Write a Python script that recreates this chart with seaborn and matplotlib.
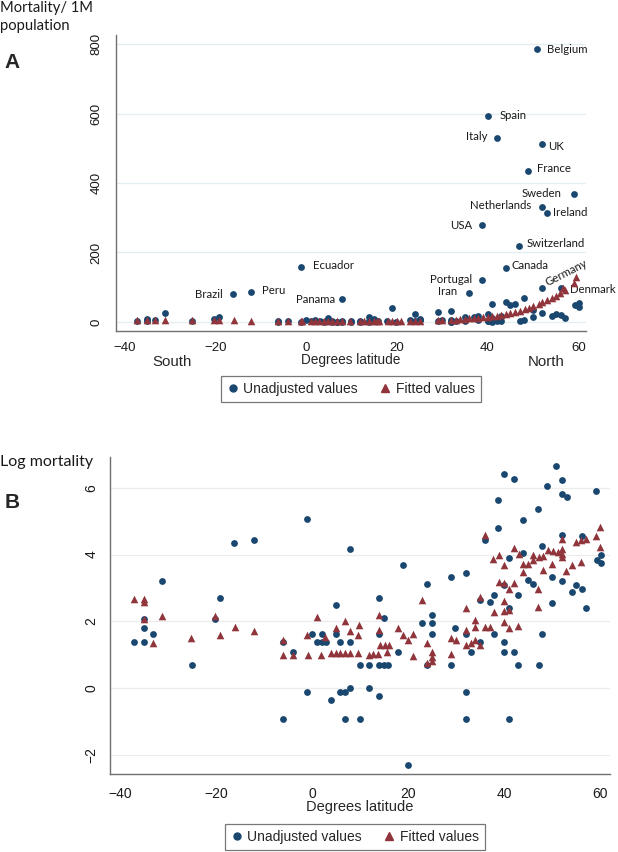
import numpy as np
import pandas as pd
import matplotlib
matplotlib.use("Agg")
import matplotlib.pyplot as plt
import seaborn as sns
from matplotlib.lines import Line2D

# ---------------- data ----------------
# observed countries: latitude (degrees), mortality per 1M (panel A), log mortality (panel B)
lat_obs = [-37.2, -35.1, -35.1, -35.1, -33.2, -31.2, -25.1, -20.2, -19.2, -16.2,
           -12.1, -6.1, -6.1, -4.0, -1.1, -1.1, -0.1, 1.0, 2.0, 3.0,
           2.0, 4.9, 4.9, 3.9, 5.8, 6.9, 7.9, 5.8, 7.9, 7.9,
           6.9, 10.0, 10.0, 11.9, 11.9, 13.9, 13.9, 14.9, 15.9, 14.0,
           13.9, 14.9, 17.9, 19.0, 19.9, 23.0, 24.0, 24.0, 25.1, 25.1,
           25.1, 29.0, 29.0, 29.9, 32.0, 32.0, 32.0, 32.0, 33.1, 35.0,
           35.0, 36.0, 37.1, 37.9, 37.9, 38.8, 38.8, 40.0, 40.0, 40.0,
           40.0, 41.0, 41.0, 41.0, 42.0, 42.0, 43.0, 43.0, 44.0, 44.0,
           45.0, 46.1, 47.0, 47.2, 48.0, 48.0, 49.0, 50.1, 50.1, 50.9,
           52.0, 52.0, 52.1, 53.1, 52.0, 54.1, 55.1, 56.2, 56.2, 57.1,
           59.1, 59.3, 60.2, 60.2]
mort_obs = [3.9, 3.9, 6.0, 7.9, 5.1, 25, 2.0, 7.9, 14.7, 80,
            85, 4.0, 0.4, 3.0, 159, 0.9, 5.1, 4.0, 4.0, 4.0,
            5.1, 5.1, 12, 0.7, 0.9, 0.9, 1.0, 4.0, 4.0, 65,
            0.4, 0.4, 2.0, 2.0, 1.0, 0.8, 2.0, 2.0, 2.0, 5.1,
            14.9, 8.1, 3.0, 40, 0.1, 7.0, 23, 2.0, 8.9, 7.0,
            5.1, 28, 2.0, 6.0, 32, 5.1, 0.9, 0.4, 3.0, 13.9,
            3.9, 84, 13.2, 16.1, 5.1, 122, 278, 594, 21.8, 4.0,
            3.0, 51, 11, 0.4, 530, 3.0, 16, 2.0, 58, 156,
            49, 52, 219, 2.0, 70, 5.0, 434, 35, 13, 785,
            98, 513, 332, 315, 25, 18, 22, 19, 97, 11,
            367, 49, 56, 44]
logm_obs = [1.37, 1.37, 1.79, 2.07, 1.62, 3.21, 0.69, 2.07, 2.69, 4.36,
            4.43, 1.39, -0.91, 1.09, 5.06, -0.11, 1.62, 1.39, 1.39, 1.39,
            1.62, 1.62, 2.48, -0.36, -0.11, -0.11, 0.01, 1.39, 1.39, 4.16,
            -0.91, -0.91, 0.69, 0.69, 0.0, -0.23, 0.69, 0.69, 0.69, 1.62,
            2.70, 2.09, 1.09, 3.70, -2.30, 1.94, 3.13, 0.69, 2.19, 1.94,
            1.62, 3.33, 0.69, 1.79, 3.46, 1.62, -0.11, -0.91, 1.09, 2.63,
            1.37, 4.43, 2.58, 2.78, 1.62, 4.78, 5.62, 6.40, 3.08, 1.39,
            1.09, 3.90, 2.41, -0.91, 6.26, 1.09, 2.78, 0.69, 4.05, 5.04,
            3.23, 3.13, 5.37, 0.69, 4.25, 1.61, 6.06, 3.33, 2.56, 6.66,
            4.58, 6.23, 5.81, 5.73, 3.21, 2.88, 3.10, 2.96, 4.56, 2.39,
            5.90, 3.85, 3.98, 3.75]

# fitted values, panel A (mortality per 1M, smooth in latitude)
lat_fit_a = [-37.2, -35.1, -33.2, -31.2, -25.2, -20.2, -19.2, -16.0, -12.1, -6.1,
             -4.0, -1.1, -0.8, 1.0, 1.9, 2.8, 3.9, 4.9, 5.8, 6.9,
             7.9, 9.6, 11.9, 12.8, 13.8, 14.9, 15.7, 16.1, 18.0, 19.0,
             20.1, 21.0, 23.0, 24.0, 25.1, 29.0, 30.0, 32.0, 33.1, 34.0,
             35.0, 36.0, 37.1, 37.9, 39.0, 40.0, 41.0, 42.1, 43.0, 44.0,
             45.0, 46.1, 47.2, 48.2, 49.2, 50.1, 51.3, 52.1, 53.0, 54.1,
             55.1, 56.0, 56.7, 57.1, 59.1, 59.6]
fit_a = [7, 7, 6, 6, 5, 5, 5, 5, 4, 4,
         4, 4, 4, 4, 4, 4, 4, 4, 4, 4,
         4, 4, 4, 4, 4, 4, 4, 4, 4, 4,
         4, 4, 4, 4, 4, 5, 5, 6, 7, 8,
         9, 10, 11, 12, 13, 15, 16, 18, 20, 23,
         26, 29, 33, 37, 41, 45, 51, 57, 62, 69,
         76, 84, 97, 92, 113, 129]

# fitted values, panel B (log mortality)
lat_fit_b = [-37.2, -35.1, -35.1, -35.1, -33.2, -31.2, -25.2, -20.2, -19.2, -16.0,
             -12.1, -6.1, -6.1, -4.0, -1.1, -0.8, 1.0, 1.9, 2.8, 3.9,
             4.9, 5.8, 6.9, 7.9, 9.6, 4.9, 6.9, 7.9, 9.8, 9.6,
             11.9, 12.8, 13.8, 14.2, 15.2, 16.1, 15.7, 13.9, 13.9, 18.0,
             19.0, 20.1, 21.0, 21.0, 23.0, 24.0, 24.0, 25.1, 25.1, 25.1,
             29.0, 30.0, 29.0, 32.0, 32.0, 32.0, 33.1, 34.0, 35.0, 34.0,
             34.0, 36.0, 37.1, 35.0, 36.0, 37.9, 37.8, 39.0, 38.9, 40.0,
             40.0, 40.0, 41.0, 40.0, 41.0, 43.0, 40.0, 42.1, 41.0, 42.1,
             43.1, 44.0, 44.0, 45.0, 46.1, 46.1, 47.2, 48.2, 49.2, 50.3,
             51.3, 52.1, 52.1, 52.1, 48.1, 50.1, 47.0, 47.0, 53.0, 54.1,
             56.0, 52.0, 55.1, 56.0, 57.1, 59.1, 60.1, 60.1]
fit_b = [2.67, 2.67, 2.58, 2.07, 1.34, 2.16, 1.50, 2.16, 1.59, 1.82,
         1.71, 1.44, 0.99, 0.99, 1.59, 0.99, 2.13, 0.99, 1.53, 1.04,
         1.04, 1.04, 1.04, 1.04, 1.04, 1.79, 2.02, 1.72, 1.90, 1.59,
         1.00, 1.02, 1.02, 1.29, 1.29, 1.29, 1.09, 2.20, 1.74, 1.79,
         1.59, 1.44, 1.62, 0.96, 2.63, 1.34, 0.74, 1.09, 0.94, 0.82,
         1.49, 1.44, 1.02, 2.39, 1.74, 1.29, 1.34, 1.44, 1.29, 2.04,
         1.84, 1.82, 1.84, 2.73, 4.58, 2.28, 3.88, 3.98, 3.18, 3.68,
         2.61, 2.31, 2.33, 1.99, 1.79, 1.87, 3.15, 3.16, 2.98, 4.20,
         4.03, 3.73, 3.49, 3.73, 3.98, 3.83, 3.93, 3.95, 4.13, 4.10,
         4.08, 4.18, 4.03, 3.93, 3.53, 3.73, 2.96, 2.43, 3.51, 3.68,
         3.77, 4.46, 4.38, 4.43, 4.48, 4.55, 4.83, 4.23]

# labelled countries in panel A
label_names = ["Belgium", "Spain", "Italy", "UK", "France", "Sweden", "Netherlands",
               "Ireland", "USA", "Switzerland", "Canada", "Ecuador", "Brazil", "Peru",
               "Panama", "Portugal", "Iran", "Germany", "Denmark"]
label_lat = [50.9, 40.0, 42.0, 52.0, 49.0, 59.1, 52.1, 53.1, 38.8, 47.0, 44.0,
             -1.1, -16.2, -12.1, 7.9, 38.8, 36.0, 52.0, 56.2]
label_mort = [785, 594, 530, 513, 434, 367, 332, 315, 278, 219, 156,
              159, 80, 85, 65, 122, 84, 98, 97]

xticks = [-40, -20, 0, 20, 40, 60]
yticks_a = [0, 200, 400, 600, 800]
yticks_b = [-2, 0, 2, 4, 6]

# ---------------- style ----------------
NAVY = "#1a476f"
MAROON = "#90353b"
SPINE = "#707070"

sns.set_style("white")
plt.rcParams['font.family'] = ['Liberation Sans', 'DejaVu Sans']
LABEL_FONT = ['Lato', 'DejaVu Sans']

fig = plt.figure(figsize=(6.18, 8.52), dpi=100)
W, H = 618.0, 852.0

def ax_rect(l, t, r, b):
    return [l / W, 1 - b / H, (r - l) / W, (b - t) / H]

axA = fig.add_axes(ax_rect(116, 35, 586, 331))
axB = fig.add_axes(ax_rect(110, 457, 610, 774))

obs = pd.DataFrame({"lat": lat_obs, "mort": mort_obs, "logm": logm_obs})
fa = pd.DataFrame({"lat": lat_fit_a, "fit": fit_a})
fb = pd.DataFrame({"lat": lat_fit_b, "fit": fit_b})

def style_axis(ax, yticks, grid_color, tsize, ypad, xpad):
    for s in ["top", "right"]:
        ax.spines[s].set_visible(False)
    for s in ["left", "bottom"]:
        ax.spines[s].set_color(SPINE)
        ax.spines[s].set_linewidth(1.0)
    ax.set_xticks(xticks)
    ax.set_yticks(yticks)
    ax.tick_params(axis="both", direction="out", length=4, width=0.9, color=SPINE,
                   labelsize=tsize, labelcolor="#1a1a1a")
    ax.tick_params(axis="y", pad=ypad)
    ax.tick_params(axis="x", pad=xpad)
    for lab in ax.get_yticklabels():
        lab.set_rotation(90)
        lab.set_va("center")
    ax.grid(axis="y", color=grid_color, linewidth=0.9)
    ax.set_axisbelow(True)
    ax.set_xlabel("")
    ax.set_ylabel("")

# ---------- Panel A ----------
sns.scatterplot(data=obs, x="lat", y="mort", ax=axA, color=NAVY, marker="o",
                s=24, linewidth=0, zorder=3)
sns.scatterplot(data=fa, x="lat", y="fit", ax=axA, color=MAROON, marker="^",
                s=30, linewidth=0, zorder=4)
axA.set_xlim(-41.9, 61.7)
axA.set_ylim(-26, 826)
style_axis(axA, yticks_a, "#e3eef0", 9.5, 5.5, 4.0)

offsets = {  # pixel offsets (dx, dy) and alignment
    "Belgium": (10, 0, "left"), "Spain": (12, 0, "left"), "Italy": (-9, 1, "right"),
    "UK": (6, -3, "left"), "France": (9, 3, "left"), "Sweden": (-13, 1, "right"),
    "Netherlands": (-11, 1.5, "right"), "Ireland": (6, 0, "left"),
    "USA": (-10, 0, "right"), "Switzerland": (7, 2.5, "left"),
    "Canada": (6, 2, "left"), "Ecuador": (12, 1.5, "left"),
    "Brazil": (-10, 0, "right"), "Peru": (11, 1.5, "left"),
    "Panama": (-7, 0, "right"), "Portugal": (-10, 0.5, "right"),
    "Iran": (-12, 1.5, "right"), "Denmark": (9, -1, "left"),
}
for name, lx, ly in zip(label_names, label_lat, label_mort):
    if name == "Germany":
        axA.annotate(name, (lx, ly), xytext=(4 * 0.72, 5 * 0.72), textcoords="offset points",
                     ha="left", va="center", rotation=27, rotation_mode="anchor",
                     fontsize=8.2, family=LABEL_FONT, color="#1a1a1a")
        continue
    dx, dy, ha = offsets[name]
    axA.annotate(name, (lx, ly), xytext=(dx * 0.72, dy * 0.72), textcoords="offset points",
                 ha=ha, va="center", fontsize=8.2, family=LABEL_FONT, color="#1a1a1a")

fig.text(0 / W, 1 - 12 / H, "Mortality/ 1M", family=LABEL_FONT, fontsize=10.6,
         ha="left", va="baseline", color="#1a1a1a")
fig.text(0 / W, 1 - 30 / H, "population", family=LABEL_FONT, fontsize=10.6,
         ha="left", va="baseline", color="#1a1a1a")
fig.text(12 / W, 1 - 62 / H, "A", fontsize=15, fontweight="bold", ha="center", va="center")
fig.text(351 / W, 1 - 364 / H, "Degrees latitude", fontsize=9.8, ha="center", va="baseline")
fig.text(172 / W, 1 - 366 / H, "South", fontsize=10.8, ha="center", va="baseline")
fig.text(546 / W, 1 - 366 / H, "North", fontsize=10.8, ha="center", va="baseline")

handles = [Line2D([], [], marker="o", linestyle="none", color=NAVY, markersize=5),
           Line2D([], [], marker="^", linestyle="none", color=MAROON, markersize=5.5)]
labels = ["Unadjusted values", "Fitted values"]

def add_legend(ax, cx, cy):
    leg = ax.legend(handles, labels, loc="center", bbox_to_anchor=(cx / W, 1 - cy / H),
                    bbox_transform=fig.transFigure, ncol=2, frameon=True, fancybox=False,
                    edgecolor="#555555", fontsize=10, handletextpad=0.35,
                    columnspacing=1.6, borderpad=0.45, handlelength=0.8)
    leg.get_frame().set_linewidth(0.9)
    return leg

add_legend(axA, 351, 389)

# ---------- Panel B ----------
sns.scatterplot(data=obs, x="lat", y="logm", ax=axB, color=NAVY, marker="o",
                s=24, linewidth=0, zorder=3)
sns.scatterplot(data=fb, x="lat", y="fit", ax=axB, color=MAROON, marker="^",
                s=30, linewidth=0, zorder=4)
axB.set_xlim(-42.1, 62.1)
axB.set_ylim(-2.57, 6.92)
style_axis(axB, yticks_b, "#ececec", 10, 4.5, 5)

fig.text(0 / W, 1 - 466 / H, "Log mortality", family=LABEL_FONT, fontsize=11.5,
         ha="left", va="baseline", color="#1a1a1a")
fig.text(12 / W, 1 - 503 / H, "B", fontsize=15, fontweight="bold", ha="center", va="center")
fig.text(360 / W, 1 - 811 / H, "Degrees latitude", fontsize=10.5, ha="center", va="baseline")

add_legend(axB, 355, 837)

fig.savefig("out.png", dpi=100)
